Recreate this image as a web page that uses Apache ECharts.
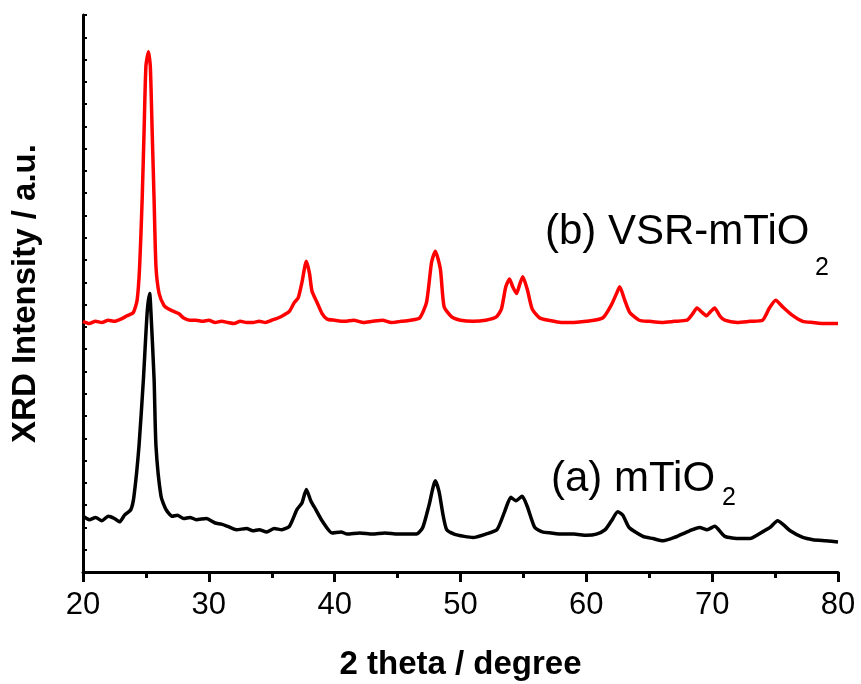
<!DOCTYPE html>
<html>
<head>
<meta charset="utf-8">
<script src="https://cdn.jsdelivr.net/npm/echarts@6/dist/echarts.min.js"></script>
<style>
  html, body { margin: 0; padding: 0; background: #fff; }
  #chart { width: 861px; height: 684px; }
</style>
</head>
<body>
<div id="chart"></div>
<script>
// 2 theta positions and intensities (offset units)
const redX = [20.0, 20.5, 21.0, 21.5, 22.0, 22.5, 23.0, 23.5, 24.0, 24.3, 24.5, 24.7, 24.85, 25.0, 25.2, 25.35, 25.5, 25.65, 25.8, 26.05, 26.45, 26.8, 27.2, 27.6, 28.0, 28.5, 29.0, 29.5, 30.0, 30.5, 31.0, 31.5, 32.0, 32.5, 33.0, 33.5, 34.0, 34.5, 35.0, 35.5, 36.0, 36.4, 36.8, 37.1, 37.4, 37.75, 38.0, 38.2, 38.6, 39.0, 39.4, 40.0, 40.8, 41.5, 42.3, 43.0, 43.8, 44.5, 45.3, 46.0, 46.75, 47.3, 47.7, 48.0, 48.4, 48.7, 49.3, 50.0, 51.0, 52.0, 52.85, 53.25, 53.6, 53.9, 54.15, 54.45, 54.7, 54.95, 55.3, 55.7, 56.3, 57.0, 58.0, 59.0, 60.0, 61.3, 62.0, 62.4, 62.65, 63.05, 63.45, 64.2, 65.0, 66.0, 67.0, 68.0, 68.4, 68.8, 69.2, 69.55, 69.9, 70.2, 70.6, 71.0, 72.0, 73.0, 74.0, 74.55, 75.05, 75.6, 76.3, 77.2, 78.0, 79.0, 80.0];
const redY = [11.25, 11.15, 11.25, 11.2, 11.3, 11.25, 11.35, 11.5, 11.65, 12.2, 13.7, 16.7, 19.7, 22.7, 23.35, 22.7, 19.7, 16.7, 13.7, 12.5, 11.95, 11.8, 11.7, 11.6, 11.4, 11.3, 11.3, 11.25, 11.3, 11.2, 11.25, 11.2, 11.15, 11.25, 11.2, 11.2, 11.25, 11.2, 11.3, 11.4, 11.55, 11.7, 12.1, 12.3, 13.0, 13.95, 13.4, 12.6, 12.1, 11.6, 11.35, 11.3, 11.25, 11.3, 11.2, 11.25, 11.3, 11.2, 11.25, 11.3, 11.4, 12.1, 13.9, 14.4, 13.6, 11.9, 11.45, 11.3, 11.25, 11.3, 11.45, 11.8, 12.8, 13.15, 12.8, 12.5, 12.9, 13.25, 12.7, 11.8, 11.4, 11.3, 11.2, 11.2, 11.25, 11.4, 12.0, 12.5, 12.8, 12.2, 11.65, 11.3, 11.25, 11.2, 11.25, 11.3, 11.55, 11.85, 11.65, 11.5, 11.7, 11.85, 11.5, 11.3, 11.2, 11.25, 11.3, 11.85, 12.2, 11.9, 11.55, 11.25, 11.2, 11.15, 11.15];

const blackX = [20.0, 20.5, 21.0, 21.5, 22.0, 22.5, 22.9, 23.3, 23.8, 24.05, 24.45, 24.8, 25.1, 25.3, 25.4, 25.65, 25.8, 26.2, 26.6, 27.1, 27.5, 28.0, 28.5, 29.0, 29.8, 30.5, 31.0, 31.5, 32.2, 33.0, 33.5, 34.0, 34.6, 35.2, 35.8, 36.4, 37.0, 37.4, 37.75, 38.1, 38.5, 39.0, 39.8, 40.5, 41.0, 42.0, 43.0, 44.0, 45.0, 46.5, 47.0, 47.5, 48.0, 48.3, 48.6, 48.9, 49.5, 50.3, 51.0, 52.0, 52.9, 53.5, 54.0, 54.4, 54.9, 55.3, 55.9, 56.5, 57.2, 58.1, 59.0, 60.0, 60.8, 61.5, 62.0, 62.5, 62.9, 63.4, 64.5, 65.3, 66.1, 67.0, 68.2, 69.0, 69.6, 70.2, 71.0, 72.2, 73.0, 74.0, 74.6, 75.2, 75.7, 76.2, 77.2, 78.0, 79.0, 80.0];
const blackY = [2.5, 2.35, 2.45, 2.3, 2.5, 2.4, 2.25, 2.55, 2.8, 3.4, 5.65, 8.65, 11.65, 12.5, 11.65, 8.65, 5.65, 3.4, 2.8, 2.5, 2.55, 2.4, 2.45, 2.35, 2.4, 2.2, 2.15, 2.05, 1.9, 1.95, 1.85, 1.9, 1.8, 1.95, 1.9, 2.05, 2.8, 3.1, 3.7, 3.2, 2.8, 2.3, 1.75, 1.8, 1.7, 1.75, 1.7, 1.75, 1.7, 1.7, 2.0, 3.0, 4.1, 3.6, 2.6, 1.9, 1.7, 1.6, 1.55, 1.7, 1.9, 2.7, 3.35, 3.2, 3.4, 2.95, 2.0, 1.8, 1.75, 1.7, 1.7, 1.65, 1.7, 1.9, 2.3, 2.7, 2.55, 2.0, 1.6, 1.5, 1.4, 1.55, 1.85, 2.0, 1.9, 2.05, 1.6, 1.5, 1.5, 1.8, 2.0, 2.3, 2.1, 1.85, 1.55, 1.45, 1.4, 1.35];

const xTicks = [20, 30, 40, 50, 60, 70, 80];

const pairs = (xs, ys) => xs.map((x, i) => [x, ys[i]]);

const chart = echarts.init(document.getElementById('chart'), null, { renderer: 'canvas' });
const font = 'Liberation Sans, Arial, sans-serif';

chart.setOption({
  animation: false,
  grid: { left: 83, right: 23, top: 15, bottom: 112, containLabel: false, outerBoundsMode: 'none' },
  xAxis: {
    type: 'value',
    min: xTicks[0],
    max: xTicks[xTicks.length - 1],
    interval: 10,
    name: '2 theta / degree',
    nameLocation: 'middle',
    nameGap: 76,
    nameTextStyle: { fontFamily: font, fontWeight: 'bold', fontSize: 33, color: '#000' },
    axisLine: { lineStyle: { color: '#000', width: 3 } },
    axisTick: { inside: false, length: 10, lineStyle: { color: '#000', width: 3 } },
    minorTick: { show: true, splitNumber: 2, length: 6, lineStyle: { color: '#000', width: 3 } },
    axisLabel: { fontFamily: font, fontSize: 31, color: '#000', margin: 18 },
    splitLine: { show: false }
  },
  yAxis: {
    type: 'value',
    min: 0,
    max: 25,
    interval: 1,
    name: 'XRD Intensity / a.u.',
    nameLocation: 'middle',
    nameGap: 41,
    nameTextStyle: { fontFamily: font, fontWeight: 'bold', fontSize: 33, color: '#000' },
    axisLine: { show: true, lineStyle: { color: '#000', width: 3 } },
    axisTick: { show: true, inside: true, length: 4, lineStyle: { color: '#000', width: 2 } },
    axisLabel: { show: false },
    splitLine: { show: false }
  },
  graphic: [
    { type: 'text', left: 545, top: 211, style: { text: '(b) VSR-mTiO', font: '42px ' + font, fill: '#000' } },
    { type: 'text', left: 815, top: 256, style: { text: '2', font: '25px ' + font, fill: '#000' } },
    { type: 'text', left: 551, top: 458, style: { text: '(a) mTiO', font: '42px ' + font, fill: '#000' } },
    { type: 'text', left: 722, top: 486, style: { text: '2', font: '25px ' + font, fill: '#000' } }
  ],
  series: [
    {
      name: 'VSR-mTiO2',
      type: 'line',
      data: pairs(redX, redY),
      showSymbol: false,
      smooth: 0.2,
      lineStyle: { color: '#ff0000', width: 3.5 },
      itemStyle: { color: '#ff0000' }
    },
    {
      name: 'mTiO2',
      type: 'line',
      data: pairs(blackX, blackY),
      showSymbol: false,
      smooth: 0.2,
      lineStyle: { color: '#000', width: 3.5 },
      itemStyle: { color: '#000' }
    }
  ]
});
</script>
</body>
</html>
